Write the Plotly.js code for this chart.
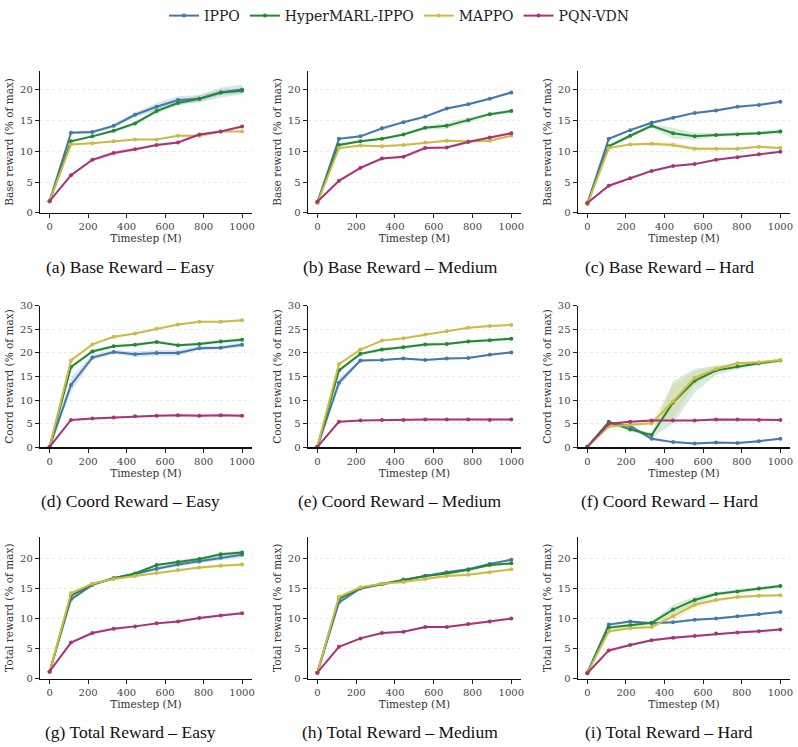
<!DOCTYPE html>
<html>
<head>
<meta charset="utf-8">
<script src="https://cdn.plot.ly/plotly-3.0.1.min.js"></script>
<style>html,body{margin:0;padding:0;background:#fff;}#chart{width:798px;height:747px;}</style>
</head>
<body>
<div id="chart"></div>
<script>
// ---------- data ----------
const timesteps = [0, 111, 222, 333, 444, 556, 667, 778, 889, 1000];
const methods = ["IPPO", "HyperMARL-IPPO", "MAPPO", "PQN-VDN"];
const captions = [
  "(a) Base Reward – Easy", "(b) Base Reward – Medium", "(c) Base Reward – Hard",
  "(d) Coord Reward – Easy", "(e) Coord Reward – Medium", "(f) Coord Reward – Hard",
  "(g) Total Reward – Easy", "(h) Total Reward – Medium", "(i) Total Reward – Hard"
];
const rowYTitles = ["Base reward (% of max)", "Coord reward (% of max)", "Total reward (% of max)"];
const xTicks = [0, 200, 400, 600, 800, 1000];
const yTicksRow = [[0, 5, 10, 15, 20], [0, 5, 10, 15, 20, 25, 30], [0, 5, 10, 15, 20]];
const yMaxRow = [23.0, 30.0, 23.6];

// (a) Base – Easy
const baseEasyIPPO  = [1.9, 13.0, 13.1, 14.1, 15.9, 17.2, 18.3, 18.5, 19.5, 20.0];
const baseEasyHyper = [1.9, 11.6, 12.4, 13.3, 14.5, 16.5, 17.8, 18.5, 19.5, 19.8];
const baseEasyMAPPO = [1.9, 11.1, 11.3, 11.6, 11.9, 11.9, 12.5, 12.5, 13.2, 13.2];
const baseEasyPQN   = [1.9, 6.1, 8.6, 9.7, 10.3, 11.0, 11.4, 12.7, 13.2, 14.0];
const baseEasyIPPOErr  = [0.1, 0.2, 0.3, 0.3, 0.4, 0.6, 0.6, 0.6, 0.8, 0.8];
const baseEasyHyperErr = [0.1, 0.2, 0.2, 0.2, 0.3, 0.4, 0.4, 0.5, 0.4, 0.4];
const baseEasyMAPPOErr = [0.1, 0.15, 0.15, 0.15, 0.15, 0.15, 0.2, 0.3, 0.15, 0.15];
const baseEasyPQNErr   = [0.1, 0.2, 0.3, 0.35, 0.25, 0.2, 0.2, 0.2, 0.2, 0.2];

// (b) Base – Medium
const baseMedIPPO  = [1.7, 12.0, 12.4, 13.7, 14.7, 15.6, 16.9, 17.6, 18.5, 19.5];
const baseMedHyper = [1.7, 11.0, 11.6, 12.0, 12.7, 13.8, 14.1, 15.0, 16.0, 16.5];
const baseMedMAPPO = [1.6, 10.5, 10.9, 10.8, 11.0, 11.4, 11.7, 11.6, 11.7, 12.5];
const baseMedPQN   = [1.8, 5.2, 7.3, 8.8, 9.1, 10.5, 10.6, 11.5, 12.2, 12.9];
const baseMedIPPOErr  = [0.1, 0.2, 0.2, 0.3, 0.2, 0.2, 0.2, 0.2, 0.2, 0.2];
const baseMedHyperErr = [0.1, 0.2, 0.2, 0.2, 0.2, 0.3, 0.5, 0.4, 0.3, 0.3];
const baseMedMAPPOErr = [0.1, 0.2, 0.2, 0.2, 0.2, 0.2, 0.2, 0.2, 0.2, 0.2];
const baseMedPQNErr   = [0.1, 0.2, 0.2, 0.2, 0.2, 0.2, 0.2, 0.3, 0.2, 0.2];

// (c) Base – Hard
const baseHardIPPO  = [1.5, 12.0, 13.4, 14.6, 15.4, 16.2, 16.6, 17.2, 17.5, 18.0];
const baseHardHyper = [1.5, 10.8, 12.5, 14.1, 12.9, 12.4, 12.6, 12.7, 12.9, 13.2];
const baseHardMAPPO = [1.4, 10.5, 11.1, 11.2, 11.0, 10.4, 10.4, 10.4, 10.7, 10.5];
const baseHardPQN   = [1.6, 4.4, 5.6, 6.8, 7.6, 7.9, 8.6, 9.0, 9.5, 9.9];
const baseHardIPPOErr  = [0.1, 0.2, 0.2, 0.2, 0.2, 0.2, 0.2, 0.2, 0.2, 0.2];
const baseHardHyperErr = [0.1, 0.3, 0.3, 0.3, 0.9, 0.6, 0.3, 0.3, 0.3, 0.4];
const baseHardMAPPOErr = [0.1, 0.2, 0.2, 0.3, 0.4, 0.3, 0.2, 0.2, 0.2, 0.2];
const baseHardPQNErr   = [0.1, 0.15, 0.15, 0.15, 0.15, 0.15, 0.15, 0.15, 0.15, 0.15];

// (d) Coord – Easy
const coordEasyIPPO  = [0.1, 13.2, 19.0, 20.2, 19.7, 20.0, 20.0, 21.0, 21.1, 21.7];
const coordEasyHyper = [0.1, 17.0, 20.3, 21.4, 21.7, 22.3, 21.6, 21.9, 22.4, 22.8];
const coordEasyMAPPO = [0.1, 18.4, 21.8, 23.4, 24.1, 25.1, 26.0, 26.6, 26.6, 26.9];
const coordEasyPQN   = [0.1, 5.8, 6.1, 6.3, 6.6, 6.7, 6.8, 6.7, 6.8, 6.7];
const coordEasyIPPOErr  = [0.05, 1.5, 0.6, 0.4, 0.6, 0.6, 0.6, 0.4, 0.4, 0.5];
const coordEasyHyperErr = [0.05, 0.4, 0.3, 0.3, 0.3, 0.3, 0.3, 0.4, 0.4, 0.4];
const coordEasyMAPPOErr = [0.05, 0.3, 0.2, 0.2, 0.2, 0.2, 0.2, 0.2, 0.2, 0.2];
const coordEasyPQNErr   = [0.05, 0.2, 0.2, 0.2, 0.2, 0.2, 0.2, 0.3, 0.3, 0.3];

// (e) Coord – Medium
const coordMedIPPO  = [0.1, 13.7, 18.4, 18.5, 18.8, 18.5, 18.8, 18.9, 19.6, 20.1];
const coordMedHyper = [0.1, 16.3, 19.8, 20.7, 21.2, 21.8, 21.9, 22.4, 22.7, 23.0];
const coordMedMAPPO = [0.1, 17.6, 20.7, 22.6, 23.1, 23.9, 24.6, 25.3, 25.7, 25.9];
const coordMedPQN   = [0.1, 5.4, 5.7, 5.8, 5.8, 5.9, 5.9, 5.9, 5.8, 5.9];
const coordMedIPPOErr  = [0.05, 1.0, 0.3, 0.2, 0.2, 0.2, 0.2, 0.2, 0.2, 0.2];
const coordMedHyperErr = [0.05, 0.4, 0.4, 0.4, 0.3, 0.3, 0.3, 0.3, 0.3, 0.4];
const coordMedMAPPOErr = [0.05, 0.2, 0.2, 0.2, 0.2, 0.2, 0.2, 0.2, 0.2, 0.2];
const coordMedPQNErr   = [0.05, 0.15, 0.15, 0.15, 0.15, 0.15, 0.15, 0.15, 0.15, 0.15];

// (f) Coord – Hard
const coordHardIPPO  = [0.1, 5.2, 4.5, 1.8, 1.1, 0.8, 1.0, 0.9, 1.3, 1.8];
const coordHardHyper = [0.1, 5.4, 3.8, 2.6, 9.5, 14.1, 16.3, 17.1, 17.8, 18.4];
const coordHardMAPPO = [0.1, 4.4, 4.8, 5.1, 9.7, 14.7, 16.6, 17.8, 18.0, 18.5];
const coordHardPQN   = [0.1, 5.0, 5.4, 5.7, 5.7, 5.7, 5.9, 5.9, 5.8, 5.8];
const coordHardIPPOErr  = [0.05, 0.3, 0.3, 0.3, 0.2, 0.2, 0.2, 0.2, 0.2, 0.2];
const coordHardHyperErr = [0.05, 0.3, 0.4, 0.5, 4.5, 2.5, 1.0, 0.5, 0.4, 0.3];
const coordHardMAPPOErr = [0.05, 0.3, 0.3, 0.4, 3.5, 1.5, 0.7, 0.4, 0.3, 0.3];
const coordHardPQNErr   = [0.05, 0.2, 0.2, 0.2, 0.2, 0.2, 0.2, 0.2, 0.2, 0.2];

// (g) Total – Easy
const totalEasyIPPO  = [1.2, 13.2, 15.6, 16.7, 17.4, 18.3, 19.0, 19.5, 20.1, 20.6];
const totalEasyHyper = [1.1, 13.8, 15.7, 16.7, 17.5, 18.9, 19.4, 19.9, 20.7, 21.0];
const totalEasyMAPPO = [1.1, 14.2, 15.8, 16.6, 17.1, 17.6, 18.1, 18.5, 18.8, 19.0];
const totalEasyPQN   = [1.2, 6.0, 7.6, 8.3, 8.7, 9.2, 9.5, 10.1, 10.5, 10.9];
const totalEasyIPPOErr  = [0.05, 0.3, 0.2, 0.2, 0.2, 0.3, 0.3, 0.3, 0.4, 0.4];
const totalEasyHyperErr = [0.05, 0.2, 0.2, 0.2, 0.2, 0.2, 0.3, 0.3, 0.3, 0.3];
const totalEasyMAPPOErr = [0.05, 0.2, 0.2, 0.2, 0.2, 0.2, 0.2, 0.2, 0.2, 0.2];
const totalEasyPQNErr   = [0.05, 0.2, 0.2, 0.2, 0.2, 0.2, 0.2, 0.2, 0.2, 0.2];

// (h) Total – Medium
const totalMedIPPO  = [1.0, 12.7, 15.0, 15.7, 16.5, 17.1, 17.7, 18.2, 19.1, 19.8];
const totalMedHyper = [1.0, 13.3, 15.1, 15.8, 16.4, 17.1, 17.5, 18.1, 18.9, 19.2];
const totalMedMAPPO = [1.0, 13.6, 15.2, 15.8, 16.1, 16.6, 17.1, 17.3, 17.7, 18.2];
const totalMedPQN   = [1.0, 5.3, 6.7, 7.6, 7.8, 8.6, 8.6, 9.1, 9.5, 10.0];
const totalMedIPPOErr  = [0.05, 0.3, 0.2, 0.2, 0.2, 0.2, 0.2, 0.2, 0.2, 0.2];
const totalMedHyperErr = [0.05, 0.2, 0.2, 0.2, 0.2, 0.2, 0.2, 0.2, 0.2, 0.2];
const totalMedMAPPOErr = [0.05, 0.2, 0.2, 0.2, 0.2, 0.2, 0.2, 0.2, 0.2, 0.2];
const totalMedPQNErr   = [0.05, 0.15, 0.15, 0.15, 0.15, 0.15, 0.15, 0.15, 0.15, 0.15];

// (i) Total – Hard
const totalHardIPPO  = [1.0, 9.0, 9.5, 9.2, 9.4, 9.8, 10.0, 10.4, 10.7, 11.1];
const totalHardHyper = [1.0, 8.5, 8.9, 9.3, 11.5, 13.1, 14.1, 14.5, 15.0, 15.4];
const totalHardMAPPO = [0.9, 7.9, 8.4, 8.6, 10.4, 12.3, 13.1, 13.6, 13.8, 13.9];
const totalHardPQN   = [0.9, 4.7, 5.6, 6.4, 6.8, 7.1, 7.5, 7.7, 7.9, 8.2];
const totalHardIPPOErr  = [0.05, 0.2, 0.2, 0.2, 0.2, 0.2, 0.2, 0.2, 0.2, 0.2];
const totalHardHyperErr = [0.05, 0.3, 0.3, 0.3, 0.8, 0.6, 0.3, 0.3, 0.3, 0.3];
const totalHardMAPPOErr = [0.05, 0.3, 0.3, 0.3, 0.7, 0.6, 0.3, 0.2, 0.2, 0.2];
const totalHardPQNErr   = [0.05, 0.2, 0.2, 0.2, 0.2, 0.2, 0.2, 0.2, 0.2, 0.2];

// ---------- assemble ----------
const panels = [
  [[baseEasyIPPO, baseEasyHyper, baseEasyMAPPO, baseEasyPQN], [baseEasyIPPOErr, baseEasyHyperErr, baseEasyMAPPOErr, baseEasyPQNErr]],
  [[baseMedIPPO, baseMedHyper, baseMedMAPPO, baseMedPQN], [baseMedIPPOErr, baseMedHyperErr, baseMedMAPPOErr, baseMedPQNErr]],
  [[baseHardIPPO, baseHardHyper, baseHardMAPPO, baseHardPQN], [baseHardIPPOErr, baseHardHyperErr, baseHardMAPPOErr, baseHardPQNErr]],
  [[coordEasyIPPO, coordEasyHyper, coordEasyMAPPO, coordEasyPQN], [coordEasyIPPOErr, coordEasyHyperErr, coordEasyMAPPOErr, coordEasyPQNErr]],
  [[coordMedIPPO, coordMedHyper, coordMedMAPPO, coordMedPQN], [coordMedIPPOErr, coordMedHyperErr, coordMedMAPPOErr, coordMedPQNErr]],
  [[coordHardIPPO, coordHardHyper, coordHardMAPPO, coordHardPQN], [coordHardIPPOErr, coordHardHyperErr, coordHardMAPPOErr, coordHardPQNErr]],
  [[totalEasyIPPO, totalEasyHyper, totalEasyMAPPO, totalEasyPQN], [totalEasyIPPOErr, totalEasyHyperErr, totalEasyMAPPOErr, totalEasyPQNErr]],
  [[totalMedIPPO, totalMedHyper, totalMedMAPPO, totalMedPQN], [totalMedIPPOErr, totalMedHyperErr, totalMedMAPPOErr, totalMedPQNErr]],
  [[totalHardIPPO, totalHardHyper, totalHardMAPPO, totalHardPQN], [totalHardIPPOErr, totalHardHyperErr, totalHardMAPPOErr, totalHardPQNErr]]
];

const colors = ["#4477AA", "#228833", "#CCBB44", "#AA3377"];
const bandColors = ["rgba(68,119,170,0.2)", "rgba(34,136,51,0.17)", "rgba(204,187,68,0.2)", "rgba(170,51,119,0.17)"];

const W = 798, H = 747;
const colPx = [[40, 251.7], [307.7, 521], [577.7, 790]];
const rowPx = [[67.3, 210], [303.3, 445.7], [535.7, 678.3]];
const captionX = [130, 400, 669];
const captionY = [264, 500, 731.5];

const SERIF = "DejaVu Serif, serif";
const traces = [];
const layout = {
  width: W, height: H,
  margin: {l: 0, r: 0, t: 0, b: 0},
  paper_bgcolor: "#fff", plot_bgcolor: "#fff",
  font: {family: SERIF, size: 10, color: "#333"},
  showlegend: true,
  legend: {
    orientation: "h", x: 0.5, xanchor: "center", y: 1.006, yanchor: "top",
    font: {family: SERIF, size: 14, color: "#222"},
    itemwidth: 30, tracegroupgap: 0, traceorder: "normal"
  },
  annotations: []
};

for (let p = 0; p < 9; p++) {
  const r = Math.floor(p / 3), c = p % 3;
  const idx = p + 1;
  const xa = idx === 1 ? "x" : "x" + idx;
  const ya = idx === 1 ? "y" : "y" + idx;
  const xKey = idx === 1 ? "xaxis" : "xaxis" + idx;
  const yKey = idx === 1 ? "yaxis" : "yaxis" + idx;
  const [means, errs] = panels[p];

  // bands
  for (let m = 0; m < 4; m++) {
    const up = means[m].map((v, i) => v + errs[m][i]);
    const lo = means[m].map((v, i) => v - errs[m][i]);
    traces.push({
      x: timesteps.concat(timesteps.slice().reverse()),
      y: up.concat(lo.slice().reverse()),
      xaxis: xa, yaxis: ya, type: "scatter", mode: "lines",
      fill: "toself", fillcolor: bandColors[m],
      line: {width: 0, color: "rgba(0,0,0,0)"},
      hoverinfo: "skip", showlegend: false
    });
  }
  // lines
  for (let m = 0; m < 4; m++) {
    traces.push({
      x: timesteps, y: means[m], name: methods[m],
      xaxis: xa, yaxis: ya, type: "scatter", mode: "lines+markers",
      line: {color: colors[m], width: 2},
      marker: {color: colors[m], size: 4, symbol: "circle"},
      showlegend: p === 0, legendgroup: methods[m]
    });
  }

  layout[xKey] = {
    domain: [colPx[c][0] / W, colPx[c][1] / W],
    anchor: ya, range: [-50, 1050],
    tickmode: "array", tickvals: xTicks, ticktext: xTicks.map(String),
    ticks: "outside", ticklen: 4, tickwidth: 1, tickcolor: "#222",
    showline: true, linecolor: "#111", linewidth: 1.2,
    showgrid: false, zeroline: false,
    tickfont: {family: SERIF, size: 10, color: "#444"},
    title: {text: "Timestep (M)", font: {family: SERIF, size: 10.5, color: "#333"}, standoff: 2},
    automargin: false, fixedrange: true
  };
  layout[yKey] = {
    domain: [1 - rowPx[r][1] / H, 1 - rowPx[r][0] / H],
    anchor: xa, range: [0, yMaxRow[r]],
    tickmode: "array", tickvals: yTicksRow[r], ticktext: yTicksRow[r].map(String),
    ticks: "outside", ticklen: 4, tickwidth: 1, tickcolor: "#222",
    showline: true, linecolor: "#111", linewidth: 1.2,
    showgrid: true, gridcolor: "#e6e6e6", gridwidth: 0.8, griddash: "dot",
    zeroline: false,
    tickfont: {family: SERIF, size: 10, color: "#444"},
    title: {text: rowYTitles[r], font: {family: SERIF, size: 10.5, color: "#333"}, standoff: 4},
    automargin: false, fixedrange: true
  };

  layout.annotations.push({
    text: captions[p], xref: "paper", yref: "paper",
    x: captionX[c] / W, y: 1 - captionY[r] / H, xanchor: "center", yanchor: "middle",
    showarrow: false, font: {family: "Liberation Serif, Times New Roman, serif", size: 17.5, color: "#111"}
  });
}

Plotly.newPlot("chart", traces, layout, {displayModeBar: false, staticPlot: true});
</script>
</body>
</html>
